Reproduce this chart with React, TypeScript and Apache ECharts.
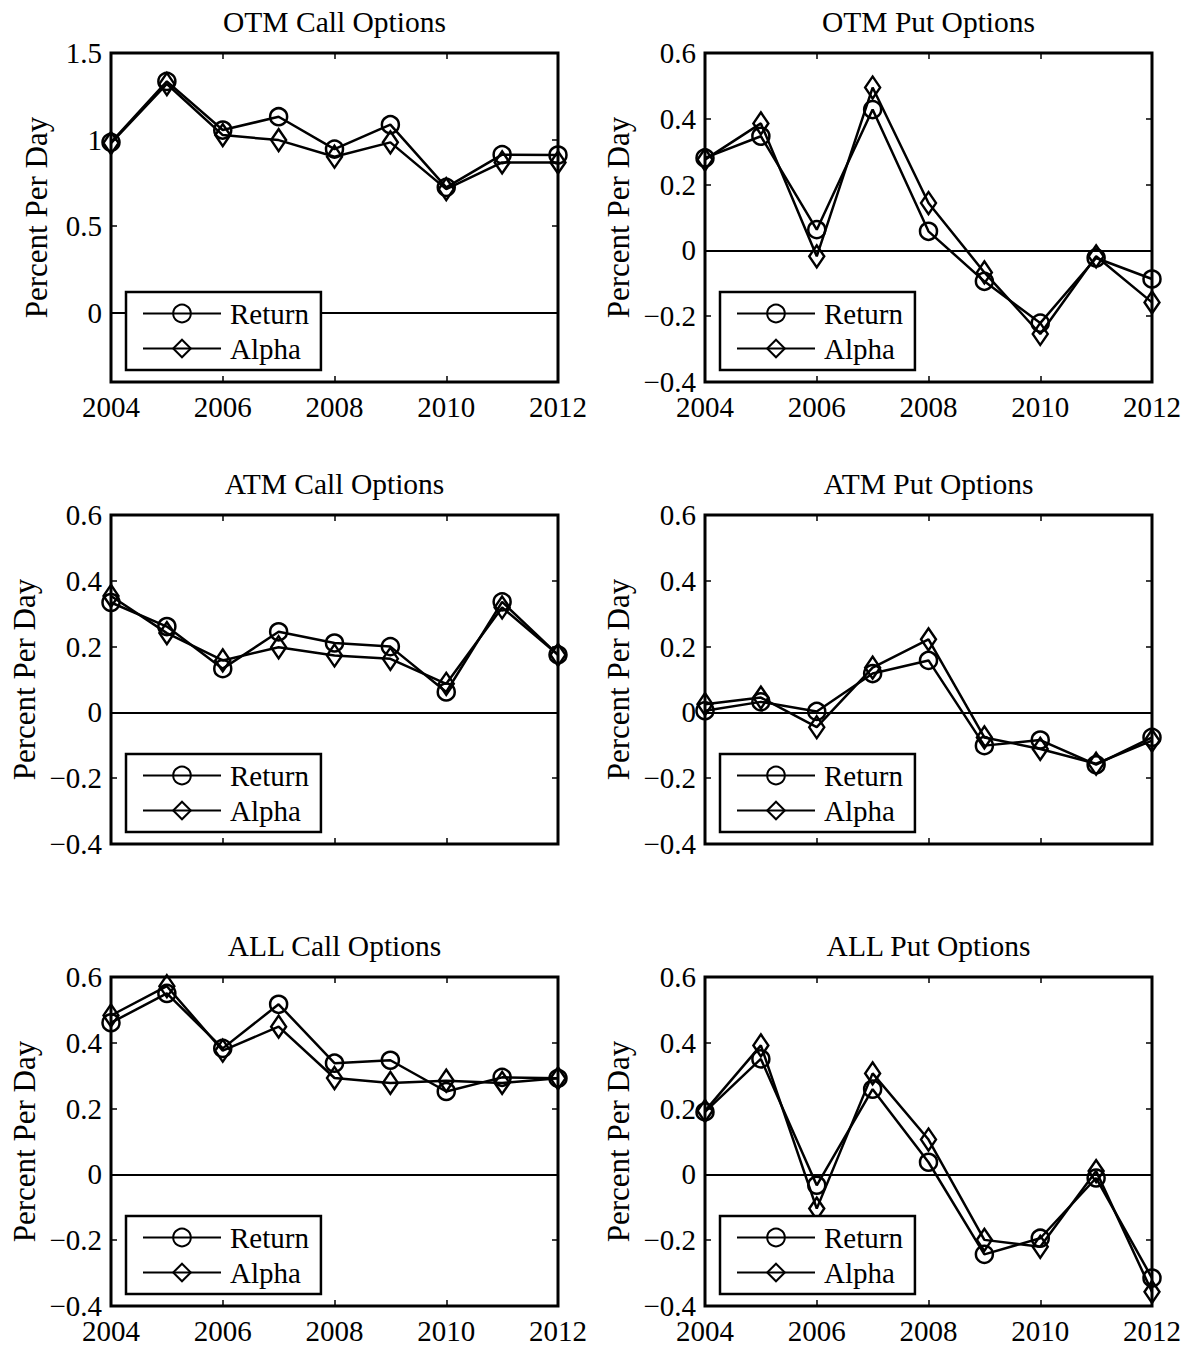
import React, { useEffect, useRef } from "react";
import * as echarts from "echarts";

const years = [2004, 2005, 2006, 2007, 2008, 2009, 2010, 2011, 2012];
const xTicks = [2004, 2006, 2008, 2010, 2012];
const yTicksOtmCall = [0, 0.5, 1, 1.5];
const yTicksStd = [-0.4, -0.2, 0, 0.2, 0.4, 0.6];

const titles = [
  "OTM Call Options",
  "OTM Put Options",
  "ATM Call Options",
  "ATM Put Options",
  "ALL Call Options",
  "ALL Put Options",
];
const seriesNames = ["Return", "Alpha"];
const yAxisTitle = "Percent Per Day";

const otmCallReturn = [0.984, 1.336, 1.055, 1.132, 0.945, 1.086, 0.724, 0.913, 0.911];
const otmCallAlpha = [0.98, 1.321, 1.026, 0.997, 0.901, 0.984, 0.714, 0.868, 0.868];
const otmPutReturn = [0.281, 0.347, 0.063, 0.428, 0.058, -0.094, -0.221, -0.023, -0.087];
const otmPutAlpha = [0.276, 0.386, -0.018, 0.495, 0.144, -0.067, -0.254, -0.018, -0.158];
const atmCallReturn = [0.334, 0.261, 0.133, 0.245, 0.211, 0.2, 0.062, 0.336, 0.175];
const atmCallAlpha = [0.354, 0.241, 0.158, 0.198, 0.173, 0.163, 0.087, 0.319, 0.175];
const atmPutReturn = [0.005, 0.032, 0.003, 0.118, 0.158, -0.101, -0.084, -0.159, -0.076];
const atmPutAlpha = [0.025, 0.045, -0.045, 0.136, 0.222, -0.076, -0.111, -0.156, -0.086];
const allCallReturn = [0.461, 0.55, 0.383, 0.517, 0.338, 0.347, 0.252, 0.295, 0.292];
const allCallAlpha = [0.483, 0.572, 0.376, 0.449, 0.293, 0.278, 0.285, 0.278, 0.292];
const allPutReturn = [0.19, 0.351, -0.033, 0.259, 0.037, -0.243, -0.194, -0.011, -0.315];
const allPutAlpha = [0.193, 0.392, -0.104, 0.307, 0.106, -0.199, -0.22, 0.01, -0.357];

const panelReturns = [otmCallReturn, otmPutReturn, atmCallReturn, atmPutReturn, allCallReturn, allPutReturn];
const panelAlphas = [otmCallAlpha, otmPutAlpha, atmCallAlpha, atmPutAlpha, allCallAlpha, allPutAlpha];
const panelYTicks = [yTicksOtmCall, yTicksStd, yTicksStd, yTicksStd, yTicksStd, yTicksStd];
const panelYRange = [
  [-0.4, 1.5],
  [-0.4, 0.6],
  [-0.4, 0.6],
  [-0.4, 0.6],
  [-0.4, 0.6],
  [-0.4, 0.6],
];

const FONT = "'Liberation Serif', 'Times New Roman', serif";
const colLeft = [111, 705];
const rowTop = [53, 515, 977];
const W = 447;
const H = 329;

function fmtY(v: number): string {
  const r = Math.round(v * 100) / 100;
  if (r === 0) return "0";
  const s = String(Math.abs(r));
  return r < 0 ? "\u2212" + s : s;
}

export default function App() {
  const ref = useRef<HTMLDivElement>(null);
  useEffect(() => {
    if (!ref.current) return;
    const chart = echarts.init(ref.current, null, { renderer: "svg" });
    const grids: any[] = [];
    const xAxes: any[] = [];
    const yAxes: any[] = [];
    const series: any[] = [];
    const legends: any[] = [];
    const graphics: any[] = [];
    const tickStyle = { color: "#000", width: 1.5 };

    for (let i = 0; i < 6; i++) {
      const col = i % 2;
      const row = Math.floor(i / 2);
      const left = colLeft[col];
      const top = rowTop[row];
      grids.push({
        left,
        top,
        width: W,
        height: H,
        show: true,
        borderColor: "#000",
        borderWidth: 3,
        backgroundColor: "transparent",
        containLabel: false,
      });
      const showX = row !== 1;
      xAxes.push({
        type: "value",
        gridIndex: i,
        min: 2004,
        max: 2012,
        position: "bottom",
        axisLine: { show: false, onZero: false },
        splitLine: { show: false },
        axisTick: { show: true, inside: true, length: 6, customValues: xTicks, lineStyle: tickStyle },
        axisLabel: {
          show: showX,
          customValues: xTicks,
          margin: 10,
          color: "#000",
          fontFamily: FONT,
          fontSize: 29,
          formatter: (v: number) => String(v),
        },
      });
      xAxes.push({
        type: "value",
        gridIndex: i,
        min: 2004,
        max: 2012,
        position: "top",
        axisLine: { show: false, onZero: false },
        splitLine: { show: false },
        axisTick: { show: true, inside: true, length: 6, customValues: xTicks, lineStyle: tickStyle },
        axisLabel: { show: false },
      });
      const ticks = panelYTicks[i];
      const [ymin, ymax] = panelYRange[i];
      yAxes.push({
        type: "value",
        gridIndex: i,
        min: ymin,
        max: ymax,
        position: "left",
        axisLine: { show: false, onZero: false },
        splitLine: { show: false },
        axisTick: { show: true, inside: true, length: 6, customValues: ticks, lineStyle: tickStyle },
        axisLabel: {
          show: true,
          customValues: ticks,
          margin: 9,
          color: "#000",
          fontFamily: FONT,
          fontSize: 29,
          formatter: (v: number) => fmtY(v),
        },
        name: yAxisTitle,
        nameLocation: "middle",
        nameRotate: 90,
        nameGap: i === 0 ? 59 : 71,
        nameTextStyle: { color: "#000", fontFamily: FONT, fontSize: 31 },
      });
      yAxes.push({
        type: "value",
        gridIndex: i,
        min: ymin,
        max: ymax,
        position: "right",
        axisLine: { show: false, onZero: false },
        splitLine: { show: false },
        axisTick: { show: true, inside: true, length: 6, customValues: ticks, lineStyle: tickStyle },
        axisLabel: { show: false },
      });

      const mkSeries = (name: string, data: number[], symbol: string, size: any, withZero: boolean) => {
        const s: any = {
          name,
          type: "line",
          xAxisIndex: i * 2,
          yAxisIndex: i * 2,
          data: years.map((y, k) => [y, data[k]]),
          symbol,
          symbolSize: size,
          showAllSymbol: true,
          lineStyle: { color: "#000", width: 2.5 },
          itemStyle: { color: "transparent", borderColor: "#000", borderWidth: 2.5 },
          emphasis: { disabled: true },
          z: 3,
        };
        if (withZero) {
          s.markLine = {
            silent: true,
            symbol: ["none", "none"],
            label: { show: false },
            lineStyle: { color: "#000", width: 2.2, type: "solid" },
            data: [{ yAxis: 0 }],
            z: 2,
          };
        }
        return s;
      };
      series.push(mkSeries(seriesNames[0], panelReturns[i], "circle", 17, true));
      series.push(mkSeries(seriesNames[1], panelAlphas[i], "diamond", [15, 22], false));

      legends.push({
        orient: "vertical",
        left: left + 15,
        top: top + 239,
        data: seriesNames,
        itemWidth: 78,
        itemHeight: 22,
        itemGap: 6,
        padding: [7, 12, 7, 16],
        borderColor: "#000",
        borderWidth: 2.5,
        backgroundColor: "#fff",
        selectedMode: false,
        textStyle: { color: "#000", fontFamily: FONT, fontSize: 29, padding: [0, 0, 0, 4] },
        z: 10,
      });

      graphics.push({
        type: "text",
        x: left + W / 2,
        y: top - 31,
        style: {
          text: titles[i],
          fill: "#000",
          font: `29.5px ${FONT}`,
          textAlign: "center",
          textVerticalAlign: "middle",
        },
      });
    }

    chart.setOption({
      animation: false,
      backgroundColor: "#fff",
      grid: grids,
      xAxis: xAxes,
      yAxis: yAxes,
      series,
      legend: legends,
      graphic: graphics,
    });
    return () => chart.dispose();
  }, []);
  return (
    <div
      ref={ref}
      style={{ position: "absolute", left: 0, top: 0, width: 1191, height: 1345, background: "#fff" }}
    />
  );
}
